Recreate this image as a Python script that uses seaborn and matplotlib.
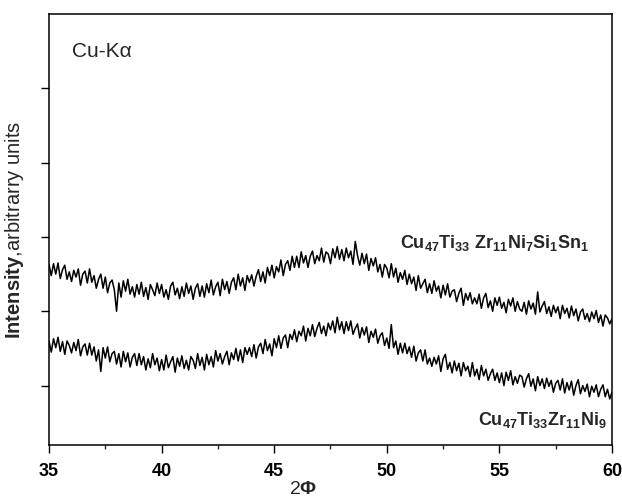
import numpy as np
import pandas as pd
import matplotlib
matplotlib.use("Agg")
import matplotlib.pyplot as plt
import seaborn as sns

# 2-theta sampling grid (degrees), 0.1 deg steps from 35 to 60
two_theta = np.round(np.arange(350, 601) / 10.0, 1)

# Cu47Ti33Zr11Ni7Si1Sn1 (upper trace), arbitrary units
upper = [
    2.63, 2.48, 2.64, 2.50, 2.65, 2.44, 2.56, 2.62, 2.43, 2.53,
    2.40, 2.55, 2.46, 2.57, 2.35, 2.50, 2.54, 2.38, 2.57, 2.39,
    2.48, 2.31, 2.43, 2.50, 2.31, 2.46, 2.25, 2.38, 2.42, 2.29,
    2.00, 2.38, 2.19, 2.41, 2.27, 2.43, 2.23, 2.33, 2.19, 2.36,
    2.23, 2.39, 2.20, 2.32, 2.16, 2.36, 2.29, 2.21, 2.38, 2.24,
    2.36, 2.19, 2.29, 2.16, 2.34, 2.39, 2.22, 2.31, 2.17, 2.33,
    2.20, 2.38, 2.24, 2.34, 2.16, 2.31, 2.37, 2.20, 2.34, 2.19,
    2.37, 2.25, 2.42, 2.22, 2.33, 2.39, 2.21, 2.43, 2.29, 2.40,
    2.24, 2.39, 2.45, 2.29, 2.50, 2.34, 2.45, 2.28, 2.48, 2.39,
    2.49, 2.34, 2.47, 2.56, 2.40, 2.53, 2.38, 2.59, 2.48, 2.62,
    2.45, 2.60, 2.53, 2.69, 2.48, 2.63, 2.68, 2.55, 2.74, 2.59,
    2.74, 2.59, 2.80, 2.65, 2.75, 2.59, 2.74, 2.81, 2.64, 2.75,
    2.68, 2.85, 2.66, 2.80, 2.77, 2.64, 2.84, 2.72, 2.87, 2.70,
    2.83, 2.68, 2.85, 2.72, 2.81, 2.63, 2.94, 2.75, 2.62, 2.78,
    2.64, 2.77, 2.55, 2.71, 2.61, 2.72, 2.53, 2.63, 2.46, 2.63,
    2.58, 2.45, 2.64, 2.46, 2.58, 2.39, 2.52, 2.43, 2.55, 2.36,
    2.50, 2.37, 2.46, 2.28, 2.48, 2.31, 2.37, 2.43, 2.25, 2.37,
    2.24, 2.41, 2.27, 2.34, 2.18, 2.35, 2.22, 2.37, 2.19, 2.27,
    2.29, 2.13, 2.24, 2.31, 2.08, 2.24, 2.15, 2.25, 2.10, 2.18,
    2.10, 2.23, 2.04, 2.18, 2.24, 2.05, 2.14, 2.00, 2.18, 2.08,
    2.19, 2.04, 2.12, 1.98, 2.16, 2.07, 2.18, 2.00, 2.13, 2.03,
    2.00, 2.12, 1.96, 2.14, 2.03, 2.11, 1.96, 2.26, 1.99, 2.07,
    2.13, 1.97, 2.06, 1.93, 2.08, 1.98, 2.06, 1.90, 2.08, 1.97,
    2.04, 1.91, 2.07, 1.94, 2.03, 1.87, 1.99, 2.03, 1.89, 1.97,
    1.86, 1.99, 1.90, 2.01, 1.85, 1.95, 1.80, 1.95, 1.91, 1.83,
    1.90,
]

# Cu47Ti33Zr11Ni9 (lower trace)
lower = [
    1.60, 1.45, 1.63, 1.51, 1.65, 1.46, 1.59, 1.42, 1.60, 1.54,
    1.44, 1.58, 1.47, 1.62, 1.40, 1.52, 1.56, 1.41, 1.57, 1.41,
    1.52, 1.33, 1.48, 1.19, 1.51, 1.37, 1.52, 1.32, 1.43, 1.46,
    1.29, 1.43, 1.25, 1.46, 1.32, 1.44, 1.25, 1.38, 1.43, 1.27,
    1.43, 1.28, 1.39, 1.21, 1.36, 1.24, 1.43, 1.28, 1.37, 1.20,
    1.35, 1.21, 1.41, 1.24, 1.32, 1.39, 1.18, 1.37, 1.26, 1.40,
    1.23, 1.34, 1.21, 1.39, 1.34, 1.23, 1.43, 1.27, 1.38, 1.21,
    1.42, 1.28, 1.39, 1.25, 1.47, 1.33, 1.43, 1.29, 1.39, 1.46,
    1.28, 1.44, 1.35, 1.50, 1.33, 1.48, 1.31, 1.51, 1.42, 1.51,
    1.39, 1.55, 1.37, 1.52, 1.57, 1.43, 1.62, 1.47, 1.56, 1.40,
    1.63, 1.51, 1.67, 1.50, 1.64, 1.68, 1.51, 1.69, 1.62, 1.75,
    1.59, 1.73, 1.67, 1.80, 1.60, 1.77, 1.67, 1.82, 1.66, 1.77,
    1.85, 1.70, 1.80, 1.67, 1.84, 1.75, 1.87, 1.71, 1.92, 1.75,
    1.86, 1.70, 1.86, 1.74, 1.87, 1.69, 1.77, 1.83, 1.64, 1.78,
    1.68, 1.79, 1.58, 1.73, 1.65, 1.76, 1.57, 1.67, 1.71, 1.54,
    1.64, 1.50, 1.82, 1.51, 1.60, 1.42, 1.57, 1.44, 1.57, 1.43,
    1.52, 1.38, 1.53, 1.33, 1.44, 1.48, 1.33, 1.48, 1.29, 1.37,
    1.26, 1.38, 1.29, 1.40, 1.19, 1.36, 1.42, 1.22, 1.31, 1.17,
    1.33, 1.20, 1.30, 1.13, 1.31, 1.20, 1.26, 1.12, 1.31, 1.13,
    1.22, 1.08, 1.27, 1.13, 1.22, 1.07, 1.16, 1.22, 1.07, 1.17,
    1.04, 1.17, 1.00, 1.18, 1.07, 1.20, 1.01, 1.12, 1.03, 1.14,
    1.12, 0.98, 1.09, 1.16, 0.99, 1.09, 0.93, 1.12, 1.00, 1.09,
    0.96, 1.10, 0.99, 1.07, 0.91, 1.03, 1.07, 0.94, 1.09, 0.90,
    1.04, 0.94, 1.06, 0.87, 1.00, 1.08, 0.89, 1.00, 0.92, 1.02,
    0.85, 0.99, 0.91, 1.01, 0.85, 0.95, 1.01, 0.85, 0.95, 0.82,
    0.91,
]

x_ticks = [35, 40, 45, 50, 55, 60]
x_minor = [37.5, 42.5, 47.5, 52.5, 57.5]
y_ticks = [1, 2, 3, 4, 5]
label_upper = r"$\mathbf{Cu_{47}Ti_{33}\ Zr_{11}Ni_{7}Si_{1}Sn_{1}}$"
label_lower = r"$\mathbf{Cu_{47}Ti_{33}Zr_{11}Ni_{9}}$"

sns.set_style("ticks")
plt.rcParams["font.family"] = ["Liberation Sans", "DejaVu Sans"]
plt.rcParams["mathtext.fontset"] = "custom"
plt.rcParams["mathtext.rm"] = "Liberation Sans"
plt.rcParams["mathtext.it"] = "Liberation Sans:italic"
plt.rcParams["mathtext.bf"] = "Liberation Sans:bold"

df = pd.DataFrame({
    "two_theta": np.concatenate([two_theta, two_theta]),
    "intensity": np.concatenate([upper, lower]),
    "sample": ["upper"] * len(upper) + ["lower"] * len(lower),
})

fig = plt.figure(figsize=(6.22, 4.99), dpi=100)
ax = fig.add_axes([0.0788, 0.1082, 0.9051, 0.8637])
sns.lineplot(data=df, x="two_theta", y="intensity", units="sample",
             estimator=None, color="black", linewidth=1.1, ax=ax, legend=False)

ax.set_xlim(35, 60)
ax.set_ylim(0.2, 6.0)
ax.set_xticks(x_ticks)
ax.set_xticks(x_minor, minor=True)
ax.set_yticks(y_ticks)
ax.set_yticklabels([])
ax.set_xticklabels([str(t) for t in x_ticks], fontweight="bold", fontsize=13)
ax.tick_params(axis="both", which="major", direction="out", length=6, width=1, colors="black")
ax.tick_params(axis="x", which="minor", direction="out", length=3, width=1)
ax.tick_params(axis="x", which="major", pad=7)
for s in ax.spines.values():
    s.set_visible(True)
    s.set_linewidth(1.1)
    s.set_color("black")

ax.set_xlabel(r"2$\mathbf{\Phi}$", fontsize=14)
ax.xaxis.set_label_coords(0.451, -0.104)
ax.xaxis.label.set_va("center")
ax.set_ylabel(r"$\mathbf{Intensity}$,arbitrarry units", fontsize=14.5, labelpad=7)

ax.text(36.0, 5.42, "Cu-K\u03b1", fontsize=15, va="baseline", ha="left")
ax.text(50.6, 2.85, label_upper, fontsize=13, va="baseline", ha="left")
ax.text(54.05, 0.47, label_lower, fontsize=13, va="baseline", ha="left")

fig.savefig("out.png", dpi=100)
